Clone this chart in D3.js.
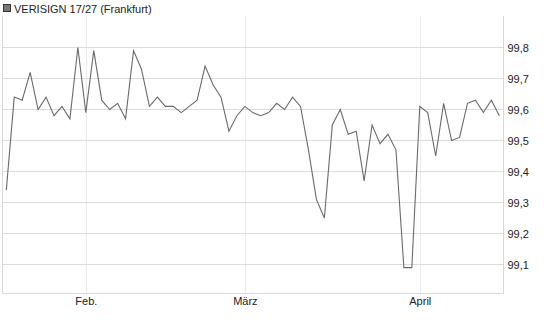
<!DOCTYPE html>
<html>
<head>
<meta charset="utf-8">
<script src="https://cdn.jsdelivr.net/npm/d3@7"></script>
<style>
  html, body { margin: 0; padding: 0; background: #fff; }
  svg { display: block; font-family: "Liberation Sans", Arial, sans-serif; }
</style>
</head>
<body>
<svg id="chart" width="545" height="327"></svg>
<script>
// Closing prices per trading day (index 0 = mid January)
const prices = [
  99.34, 99.64, 99.63, 99.72, 99.60, 99.64, 99.58, 99.61, 99.57, 99.80,
  99.59, 99.79, 99.63, 99.60, 99.62, 99.57, 99.79, 99.73, 99.61, 99.64,
  99.61, 99.61, 99.59, 99.61, 99.63, 99.74, 99.68, 99.64, 99.53, 99.58,
  99.61, 99.59, 99.58, 99.59, 99.62, 99.60, 99.64, 99.61, 99.47, 99.31,
  99.25, 99.55, 99.60, 99.52, 99.53, 99.37, 99.55, 99.49, 99.52, 99.47,
  99.09, 99.09, 99.61, 99.59, 99.45, 99.62, 99.50, 99.51, 99.62, 99.63,
  99.59, 99.63, 99.58
];

// First trading day of each month (index into prices) and its label
const monthIdx    = [10, 30, 52];
const monthLabels = ["Feb.", "März", "April"];

const yTicks = [99.1, 99.2, 99.3, 99.4, 99.5, 99.6, 99.7, 99.8];

const title = "VERISIGN 17/27 (Frankfurt)";

// -------------------------------------------------------------------------
// Layout
// -------------------------------------------------------------------------
const plot = { left: 2.5, right: 503.5, top: 16, bottom: 293.5 };

const svg = d3.select("#chart");

const x = d3.scaleLinear()
  .domain([0, prices.length - 1])
  .range([6.3, 499.3]);

const y = d3.scaleLinear()
  .domain([99.1, 99.8])
  .range([264.5, 47.5]);

// ---- Title ----
svg.append("rect")
  .attr("x", 3.5).attr("y", 4.5)
  .attr("width", 7).attr("height", 7)
  .attr("fill", "#777")
  .attr("stroke", "#333");

svg.append("text")
  .attr("x", 14).attr("y", 12.5)
  .attr("font-size", 11)
  .attr("fill", "#222")
  .text(title);

// ---- Vertical month gridlines ----
svg.append("g")
  .selectAll("line")
  .data(monthIdx)
  .join("line")
    .attr("x1", d => Math.round(x(d)) + 0.5)
    .attr("x2", d => Math.round(x(d)) + 0.5)
    .attr("y1", plot.top)
    .attr("y2", plot.bottom)
    .attr("stroke", "#ececec");

// ---- Horizontal gridlines ----
svg.append("g")
  .selectAll("line")
  .data(yTicks)
  .join("line")
    .attr("x1", plot.left)
    .attr("x2", plot.right)
    .attr("y1", d => y(d))
    .attr("y2", d => y(d))
    .attr("stroke", "#dcdcdc");

// ---- Frame (left, right, bottom) ----
svg.append("path")
  .attr("d", `M${plot.left},${plot.top}V${plot.bottom}H${plot.right}V${plot.top}`)
  .attr("fill", "none")
  .attr("stroke", "#d8d8d8");

// ---- Y axis labels (right) ----
const yAxis = d3.axisRight(y)
  .tickValues(yTicks)
  .tickSize(0)
  .tickPadding(4)
  .tickFormat(d => d3.format(".1f")(d).replace(".", ","));

svg.append("g")
  .attr("transform", `translate(${plot.right},0)`)
  .call(yAxis)
  .call(g => g.select(".domain").remove())
  .call(g => g.selectAll("text")
    .attr("font-size", 11)
    .attr("font-family", "Liberation Sans, Arial, sans-serif")
    .attr("fill", "#222"));

// ---- X axis labels (months) ----
const xAxis = d3.axisBottom(x)
  .tickValues(monthIdx)
  .tickSize(0)
  .tickPadding(4)
  .tickFormat((d, i) => monthLabels[i]);

svg.append("g")
  .attr("transform", `translate(0,${plot.bottom})`)
  .call(xAxis)
  .call(g => g.select(".domain").remove())
  .call(g => g.selectAll("text")
    .attr("font-size", 11)
    .attr("font-family", "Liberation Sans, Arial, sans-serif")
    .attr("fill", "#222"));

// ---- Price line ----
const line = d3.line()
  .x((d, i) => x(i))
  .y(d => y(d));

svg.append("path")
  .datum(prices)
  .attr("d", line)
  .attr("fill", "none")
  .attr("stroke", "#6a6a6a")
  .attr("stroke-width", 1.1)
  .attr("stroke-linejoin", "miter");
</script>
</body>
</html>
